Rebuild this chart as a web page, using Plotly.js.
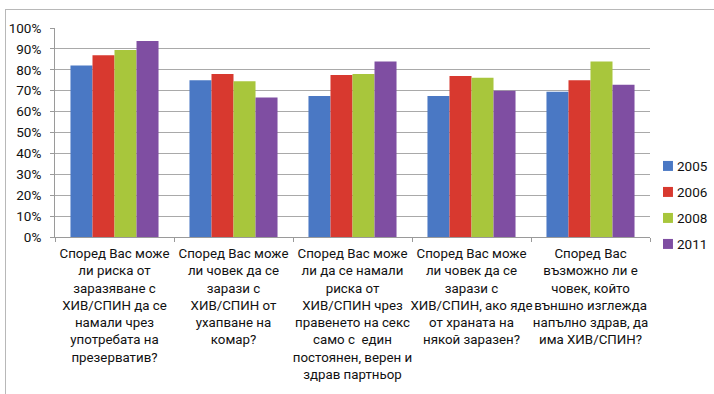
<!DOCTYPE html>
<html>
<head>
<meta charset="utf-8">
<script src="https://cdn.plot.ly/plotly-3.0.1.min.js"></script>
<style>
  html, body { margin: 0; padding: 0; background: #fff; }
  #wrap { position: relative; width: 714px; height: 394px; overflow: hidden; }
  #chart { position: absolute; left: 0; top: 0; width: 714px; height: 394px; }
  #frame { position: absolute; left: 5px; top: 9px; width: 760px; height: 420px;
           border: 1px solid #b8b8b8; pointer-events: none; }
</style>
</head>
<body>
<div id="wrap">
  <div id="chart"></div>
  <div id="frame"></div>
</div>
<script>
// Survey questions (x categories), one line break per wrapped row
const questions = [
  'Според Вас може<br>ли риска от<br>заразяване с<br>ХИВ/СПИН да се<br>намали чрез<br>употребата на<br>презерватив?',
  'Според Вас може<br>ли човек да се<br>зарази с<br>ХИВ/СПИН от<br>ухапване на<br>комар?',
  'Според Вас може<br>ли да се намали<br>риска от<br>ХИВ/СПИН чрез<br>правенето на секс<br>само с  един<br>постоянен, верен и<br>здрав партньор',
  'Според Вас може<br>ли човек да се<br>зарази с<br>ХИВ/СПИН, ако яде<br>от храната на<br>някой заразен?',
  'Според Вас<br>възможно ли е<br>човек, който<br>външно изглежда<br>напълно здрав, да<br>има ХИВ/СПИН?'
];

// Share of correct answers per survey year (fractions)
const years = ['2005', '2006', '2008', '2011'];
const values2005 = [0.82, 0.75, 0.675, 0.675, 0.695];
const values2006 = [0.87, 0.78, 0.775, 0.77, 0.75];
const values2008 = [0.895, 0.745, 0.78, 0.762, 0.84];
const values2011 = [0.938, 0.668, 0.84, 0.70, 0.728];

const yTickVals = [0, 0.1, 0.2, 0.3, 0.4, 0.5, 0.6, 0.7, 0.8, 0.9, 1.0];
const yTickText = ['0%', '10%', '20%', '30%', '40%', '50%', '60%', '70%', '80%', '90%', '100%'];

const seriesValues = [values2005, values2006, values2008, values2011];
const seriesColors = ['#4a78c4', '#d8392f', '#a8c63c', '#7f4ea2'];

const labelFont = "Roboto, 'Liberation Sans', sans-serif";
const textColor = '#111';

const traces = years.map((yr, i) => ({
  type: 'bar',
  name: yr,
  x: questions,
  y: seriesValues[i],
  marker: { color: seriesColors[i], line: { width: 0 } },
  hoverinfo: 'skip'
}));

// Legend drawn as a column of small colour squares with the year beside each
const legendLeft = 1.0218;     // paper x of the square's left edge
const legendSquare = 0.0168;   // square width in paper units
const legendTextX = 1.042;     // paper x where the year text starts
const legendTop = 0.34;        // paper y of the first entry's centre
const legendStep = 0.1244;     // vertical distance between entries
const legendHalfH = 0.0239;    // half the square height in paper units

const legendShapes = years.map((yr, i) => ({
  type: 'rect', xref: 'paper', yref: 'paper',
  x0: legendLeft, x1: legendLeft + legendSquare,
  y0: legendTop - i * legendStep - legendHalfH,
  y1: legendTop - i * legendStep + legendHalfH,
  fillcolor: seriesColors[i], line: { width: 0 }
}));

const legendLabels = years.map((yr, i) => ({
  xref: 'paper', yref: 'paper',
  x: legendTextX, xanchor: 'left',
  y: legendTop - i * legendStep, yanchor: 'middle',
  text: yr, showarrow: false,
  font: { family: labelFont, size: 13.5, color: textColor }
}));

const layout = {
  width: 714,
  height: 394,
  margin: { l: 55, r: 64, t: 28, b: 157 },
  paper_bgcolor: '#ffffff',
  plot_bgcolor: '#ffffff',
  barmode: 'group',
  bargap: 0.26,
  bargroupgap: 0,
  font: { family: labelFont, size: 13.3, color: textColor },
  showlegend: false,
  shapes: legendShapes,
  annotations: legendLabels,
  xaxis: {
    type: 'category',
    showgrid: false,
    showline: true,
    linecolor: '#9a9a9a',
    linewidth: 1,
    ticks: 'outside',
    tickson: 'boundaries',
    ticklen: 4,
    tickcolor: '#9a9a9a',
    tickangle: 0,
    ticklabelstandoff: 4,
    tickfont: { family: labelFont, size: 13.3, color: textColor },
    fixedrange: true
  },
  yaxis: {
    range: [0, 1.0],
    tickvals: yTickVals,
    ticktext: yTickText,
    showgrid: true,
    gridcolor: '#a9a9a9',
    gridwidth: 1,
    zeroline: false,
    showline: true,
    linecolor: '#9a9a9a',
    linewidth: 1,
    ticks: 'outside',
    ticklen: 4,
    tickcolor: '#9a9a9a',
    ticklabelstandoff: 6,
    tickfont: { family: labelFont, size: 13.5, color: textColor },
    fixedrange: true
  }
};

Plotly.newPlot('chart', traces, layout, { displayModeBar: false, staticPlot: true });
</script>
</body>
</html>
